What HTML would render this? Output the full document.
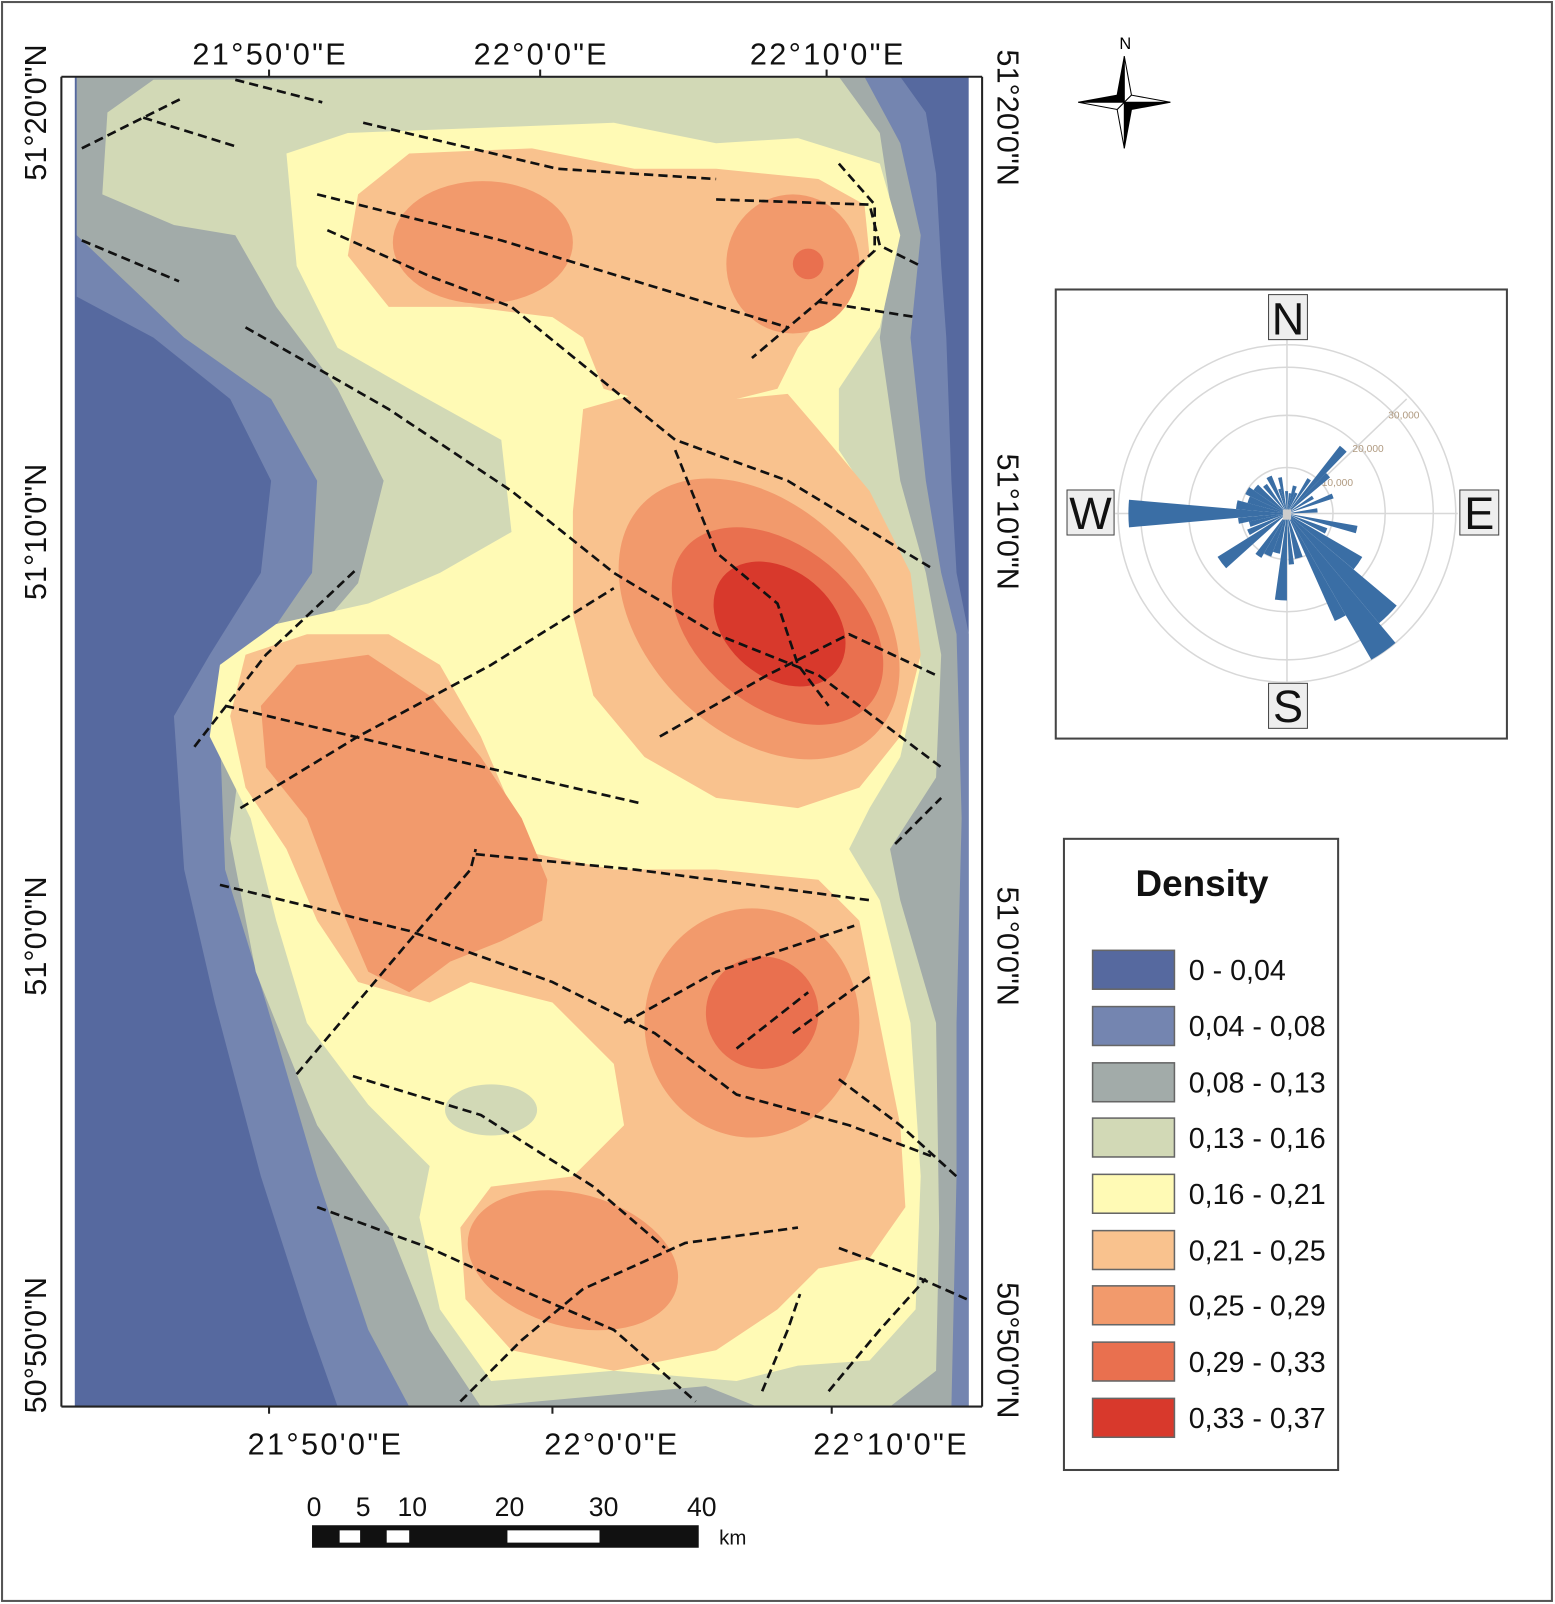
<!DOCTYPE html>
<html><head><meta charset="utf-8"><style>
html,body{margin:0;padding:0;background:#fff}
svg{display:block}
text{font-family:"Liberation Sans",sans-serif}
</style></head><body>
<svg width="1555" height="1604" viewBox="0 0 1520 1568" preserveAspectRatio="none" xmlns="http://www.w3.org/2000/svg">
<rect x="2" y="2" width="1515" height="1563" fill="#fff" stroke="#555" stroke-width="2"/>
<defs><clipPath id="mc"><rect x="73" y="75" width="874" height="1300"/></clipPath></defs>
<g clip-path="url(#mc)" stroke-linejoin="round">
<rect x="73" y="75" width="874" height="1300" fill="#56699f"/>
<polygon fill="#7485b0" points="75,75 880,75 905,110 915,170 920,260 925,330 930,470 935,560 947,620 947,1375 330,1375 300,1290 255,1150 210,980 180,850 170,700 205,640 255,560 265,470 225,390 150,330 75,290"/>
<polygon fill="#a2aba9" points="75,75 845,75 880,140 900,230 890,330 905,470 920,560 935,620 940,800 935,1000 935,1150 930,1375 400,1375 360,1300 310,1150 260,980 220,850 215,720 250,640 305,560 310,470 265,390 180,330 75,230"/>
<polygon fill="#d2d9b6" points="100,190 105,110 150,78 820,75 860,130 875,230 860,330 880,470 905,560 920,640 915,760 870,830 880,880 915,1000 918,1200 915,1340 870,1375 740,1375 690,1355 470,1375 420,1300 380,1200 310,1100 250,950 225,820 240,700 290,640 350,570 375,470 330,380 270,300 230,230 170,220"/>
<polygon fill="#fffab5" points="280,150 340,130 600,120 700,140 780,135 860,160 880,230 860,320 820,380 820,440 860,500 890,580 900,650 880,740 850,790 830,830 860,880 890,1000 900,1150 895,1280 850,1330 780,1335 720,1350 600,1340 480,1350 430,1280 410,1190 420,1140 360,1080 300,1000 270,900 245,800 205,720 215,650 270,610 360,590 430,560 500,520 490,430 400,380 330,340 290,260"/>
<ellipse cx="480" cy="1085" rx="45" ry="25" fill="#d2d9b6"/>
<g fill="#f9c28e">
<polygon points="340,250 350,190 400,150 520,145 620,165 700,165 800,175 845,200 850,250 810,300 780,340 760,380 700,395 640,395 590,380 570,330 540,310 460,300 380,300"/>
<polygon points="570,400 640,380 720,390 770,385 800,420 850,480 890,560 900,640 880,720 840,770 780,790 700,780 630,740 580,680 560,600 560,500"/>
<polygon points="225,700 240,640 300,620 380,620 430,650 470,720 500,790 530,850 540,900 500,940 420,980 350,960 310,900 280,830 240,770"/>
<polygon points="380,830 500,830 600,850 700,850 800,860 840,900 860,1000 880,1100 885,1180 850,1230 800,1240 760,1280 700,1320 600,1340 500,1320 455,1270 450,1200 480,1160 560,1150 610,1100 600,1040 540,980 460,960 420,930"/>
</g>
<g fill="#f29a6c">
<ellipse cx="472" cy="237" rx="88" ry="60"/>
<ellipse cx="775" cy="258" rx="65" ry="68"/>
<ellipse cx="742" cy="605" rx="160" ry="110" transform="rotate(45 742 605)"/>
<polygon points="255,690 290,650 360,640 420,680 470,740 510,800 535,860 530,900 490,920 440,940 400,970 360,950 330,880 300,800 260,750"/>
<ellipse cx="735" cy="1000" rx="105" ry="112"/>
<ellipse cx="560" cy="1232" rx="105" ry="65" transform="rotate(15 560 1232)"/>
</g>
<g fill="#e9704f">
<circle cx="790" cy="258" r="15"/>
<ellipse cx="760" cy="612" rx="118" ry="78" transform="rotate(40 760 612)"/>
<ellipse cx="745" cy="990" rx="55" ry="55"/>
</g>
<ellipse cx="762" cy="610" rx="72" ry="52" transform="rotate(40 762 610)" fill="#d8392c"/>
<g fill="none" stroke="#111" stroke-width="2.6" stroke-dasharray="9,5">
<polyline points="80,145 180,95"/><polyline points="140,115 230,143"/><polyline points="230,78 315,100"/>
<polyline points="355,120 545,165 700,175"/><polyline points="700,195 850,200 860,240 900,260"/>
<polyline points="820,160 855,200 855,245 800,295 735,350"/><polyline points="310,190 490,235 770,320"/>
<polyline points="320,225 420,270 500,300 660,430 770,470 910,555"/><polyline points="800,295 895,310"/>
<polyline points="80,235 175,275"/><polyline points="240,320 380,400 500,480 600,560 700,620 800,660 920,750"/>
<polyline points="660,440 700,540 760,590 780,650 810,690"/><polyline points="190,730 260,640 350,555"/>
<polyline points="235,790 350,720 480,650 600,575"/><polyline points="220,690 430,740 625,785"/>
<polyline points="645,720 750,660 830,620 915,660"/><polyline points="875,825 920,780"/>
<polyline points="215,865 400,910 540,960 640,1010 720,1070 830,1100 910,1130"/>
<polyline points="465,835 620,850 850,880"/><polyline points="290,1050 400,920 460,850 465,830"/>
<polyline points="610,1000 700,950 835,905"/><polyline points="720,1025 790,970"/><polyline points="775,1010 850,955"/>
<polyline points="820,1055 880,1100 935,1150"/><polyline points="345,1052 470,1090 580,1160 650,1220"/>
<polyline points="310,1180 420,1220 530,1270 600,1300 680,1370"/>
<polyline points="450,1370 510,1310 570,1260 670,1215 780,1200"/>
<polyline points="745,1360 770,1300 782,1265"/><polyline points="810,1360 860,1300 905,1250"/>
<polyline points="820,1220 900,1250 945,1270"/>
</g>
</g>
<g stroke="#222" stroke-width="2" fill="none">
<line x1="60" y1="75" x2="960" y2="75"/><line x1="60" y1="1375" x2="960" y2="1375"/>
<line x1="60" y1="75" x2="60" y2="1375"/><line x1="960" y1="75" x2="960" y2="1375"/>
<line x1="263" y1="68" x2="263" y2="75"/><line x1="528" y1="68" x2="528" y2="75"/><line x1="808" y1="68" x2="808" y2="75"/>
<line x1="263" y1="1375" x2="263" y2="1382"/><line x1="540" y1="1375" x2="540" y2="1382"/><line x1="813" y1="1375" x2="813" y2="1382"/>
</g>
<g font-size="30" fill="#111" text-anchor="middle">
<text x="263" y="63" textLength="150">21°50'0"E</text>
<text x="528" y="63" textLength="130">22°0'0"E</text>
<text x="808" y="63" textLength="150">22°10'0"E</text>
<text x="317" y="1422" textLength="150">21°50'0"E</text>
<text x="597" y="1422" textLength="130">22°0'0"E</text>
<text x="870" y="1422" textLength="150">22°10'0"E</text>
<text transform="translate(45,110) rotate(-90)">51°20'0"N</text>
<text transform="translate(45,520) rotate(-90)">51°10'0"N</text>
<text transform="translate(45,915) rotate(-90)">51°0'0"N</text>
<text transform="translate(45,1315) rotate(-90)">50°50'0"N</text>
<text transform="translate(975,115) rotate(90)">51°20'0"N</text>
<text transform="translate(975,510) rotate(90)">51°10'0"N</text>
<text transform="translate(975,925) rotate(90)">51°0'0"N</text>
<text transform="translate(975,1320) rotate(90)">50°50'0"N</text>
</g>
<g transform="translate(1099,100)" stroke="#000" stroke-width="1">
<polygon points="0,-45 -7,-7 0,0" fill="#000"/><polygon points="0,-45 7,-7 0,0" fill="#fff"/>
<polygon points="0,45 7,7 0,0" fill="#000"/><polygon points="0,45 -7,7 0,0" fill="#fff"/>
<polygon points="-45,0 -7,-7 0,0" fill="#000"/><polygon points="-45,0 -7,7 0,0" fill="#fff"/>
<polygon points="45,0 7,7 0,0" fill="#000"/><polygon points="45,0 7,-7 0,0" fill="#fff"/>
<text x="1" y="-52" font-family="Liberation Serif" font-size="16" text-anchor="middle" stroke="none">N</text>
</g>
<rect x="1032" y="283" width="441" height="439" fill="#fff" stroke="#444" stroke-width="2"/>
<g fill="none" stroke="#d8d8d8" stroke-width="1.5">
<circle cx="1258" cy="502" r="45"/><circle cx="1258" cy="502" r="96"/><circle cx="1258" cy="502" r="143"/><circle cx="1258" cy="502" r="165"/>
<line x1="1258" y1="330" x2="1258" y2="680"/><line x1="1090" y1="502" x2="1425" y2="502"/>
<line x1="1258" y1="502" x2="1375" y2="390"/>
</g>
<g font-size="10" fill="#b09a80"><text x="1292" y="475">10,000</text><text x="1322" y="442">20,000</text><text x="1357" y="409">30,000</text></g>
<g fill="#3a6ea5">
<path transform="translate(1258,502) rotate(270)" d="M0,0 L-13.5,-154.4 A155,155 0 0 1 13.5,-154.4 Z"/>
<path transform="translate(1258,502) rotate(41)" d="M0,0 L-4.4,-83.9 A84,84 0 0 1 4.4,-83.9 Z"/>
<path transform="translate(1258,502) rotate(47)" d="M0,0 L-2.9,-54.9 A55,55 0 0 1 2.9,-54.9 Z"/>
<path transform="translate(1258,502) rotate(33)" d="M0,0 L-2.1,-39.9 A40,40 0 0 1 2.1,-39.9 Z"/>
<path transform="translate(1258,502) rotate(58)" d="M0,0 L-1.8,-29.9 A30,30 0 0 1 1.8,-29.9 Z"/>
<path transform="translate(1258,502) rotate(69)" d="M0,0 L-2.5,-47.9 A48,48 0 0 1 2.5,-47.9 Z"/>
<path transform="translate(1258,502) rotate(84)" d="M0,0 L-2.1,-29.9 A30,30 0 0 1 2.1,-29.9 Z"/>
<path transform="translate(1258,502) rotate(103)" d="M0,0 L-3.7,-69.9 A70,70 0 0 1 3.7,-69.9 Z"/>
<path transform="translate(1258,502) rotate(114)" d="M0,0 L-2.9,-41.9 A42,42 0 0 1 2.9,-41.9 Z"/>
<path transform="translate(1258,502) rotate(125)" d="M0,0 L-7.4,-84.7 A85,85 0 0 1 7.4,-84.7 Z"/>
<path transform="translate(1258,502) rotate(135)" d="M0,0 L-12.2,-139.5 A140,140 0 0 1 12.2,-139.5 Z"/>
<path transform="translate(1258,502) rotate(145)" d="M0,0 L-14.4,-164.4 A165,165 0 0 1 14.4,-164.4 Z"/>
<path transform="translate(1258,502) rotate(153)" d="M0,0 L-6,-114.8 A115,115 0 0 1 6,-114.8 Z"/>
<path transform="translate(1258,502) rotate(165)" d="M0,0 L-3.9,-44.8 A45,45 0 0 1 3.9,-44.8 Z"/>
<path transform="translate(1258,502) rotate(175)" d="M0,0 L-2.6,-49.9 A50,50 0 0 1 2.6,-49.9 Z"/>
<path transform="translate(1258,502) rotate(184)" d="M0,0 L-5.9,-84.8 A85,85 0 0 1 5.9,-84.8 Z"/>
<path transform="translate(1258,502) rotate(195)" d="M0,0 L-3.5,-39.8 A40,40 0 0 1 3.5,-39.8 Z"/>
<path transform="translate(1258,502) rotate(205)" d="M0,0 L-3.9,-44.8 A45,45 0 0 1 3.9,-44.8 Z"/>
<path transform="translate(1258,502) rotate(214)" d="M0,0 L-3.5,-49.9 A50,50 0 0 1 3.5,-49.9 Z"/>
<path transform="translate(1258,502) rotate(233)" d="M0,0 L-7,-79.7 A80,80 0 0 1 7,-79.7 Z"/>
<path transform="translate(1258,502) rotate(244)" d="M0,0 L-2.9,-41.9 A42,42 0 0 1 2.9,-41.9 Z"/>
<path transform="translate(1258,502) rotate(254)" d="M0,0 L-2.7,-37.9 A38,38 0 0 1 2.7,-37.9 Z"/>
<path transform="translate(1258,502) rotate(261.5)" d="M0,0 L-2.9,-47.9 A48,48 0 0 1 2.9,-47.9 Z"/>
<path transform="translate(1258,502) rotate(280)" d="M0,0 L-4.4,-49.8 A50,50 0 0 1 4.4,-49.8 Z"/>
<path transform="translate(1258,502) rotate(290)" d="M0,0 L-3.5,-39.8 A40,40 0 0 1 3.5,-39.8 Z"/>
<path transform="translate(1258,502) rotate(300)" d="M0,0 L-3.9,-44.8 A45,45 0 0 1 3.9,-44.8 Z"/>
<path transform="translate(1258,502) rotate(310)" d="M0,0 L-3.5,-39.8 A40,40 0 0 1 3.5,-39.8 Z"/>
<path transform="translate(1258,502) rotate(322)" d="M0,0 L-2.4,-34.9 A35,35 0 0 1 2.4,-34.9 Z"/>
<path transform="translate(1258,502) rotate(334)" d="M0,0 L-2.8,-39.9 A40,40 0 0 1 2.8,-39.9 Z"/>
<path transform="translate(1258,502) rotate(343)" d="M0,0 L-1.3,-25 A25,25 0 0 1 1.3,-25 Z"/>
<path transform="translate(1258,502) rotate(349)" d="M0,0 L-1.9,-35.9 A36,36 0 0 1 1.9,-35.9 Z"/>
<path transform="translate(1258,502) rotate(359)" d="M0,0 L-1.5,-21.9 A22,22 0 0 1 1.5,-21.9 Z"/>
<path transform="translate(1258,502) rotate(8.5)" d="M0,0 L-1.2,-20 A20,20 0 0 1 1.2,-20 Z"/>
<path transform="translate(1258,502) rotate(16)" d="M0,0 L-2,-27.9 A28,28 0 0 1 2,-27.9 Z"/>
<path transform="translate(1258,502) rotate(24)" d="M0,0 L-1.5,-21.9 A22,22 0 0 1 1.5,-21.9 Z"/>
</g>
<rect x="1254" y="498" width="8" height="10" fill="#ccc"/>
<g font-size="44" fill="#111" text-anchor="middle">
<rect x="1240" y="288" width="38" height="44" fill="#eee" stroke="#444"/><text x="1259" y="327">N</text>
<rect x="1240" y="668" width="38" height="44" fill="#eee" stroke="#444"/><text x="1259" y="706">S</text>
<rect x="1043" y="479" width="46" height="44" fill="#eee" stroke="#444"/><text x="1066" y="517">W</text>
<rect x="1427" y="479" width="38" height="44" fill="#eee" stroke="#444"/><text x="1446" y="517">E</text>
</g>
<rect x="1040" y="820" width="268" height="617" fill="#fff" stroke="#444" stroke-width="2"/>
<text x="1175" y="876" font-size="36" font-weight="bold" text-anchor="middle" fill="#111">Density</text>
<g stroke="#666" stroke-width="1.5">
<rect x="1068" y="929" width="80" height="38" fill="#56699f"/>
<rect x="1068" y="984" width="80" height="38" fill="#7485b0"/>
<rect x="1068" y="1039" width="80" height="38" fill="#a2aba9"/>
<rect x="1068" y="1093" width="80" height="38" fill="#d2d9b6"/>
<rect x="1068" y="1148" width="80" height="38" fill="#fffab5"/>
<rect x="1068" y="1203" width="80" height="38" fill="#f9c28e"/>
<rect x="1068" y="1257" width="80" height="38" fill="#f29a6c"/>
<rect x="1068" y="1312" width="80" height="38" fill="#e9704f"/>
<rect x="1068" y="1367" width="80" height="38" fill="#d8392c"/>
</g>
<g font-size="28" fill="#111">
<text x="1162" y="958">0 - 0,04</text><text x="1162" y="1013">0,04 - 0,08</text><text x="1162" y="1068">0,08 - 0,13</text>
<text x="1162" y="1122">0,13 - 0,16</text><text x="1162" y="1177">0,16 - 0,21</text><text x="1162" y="1232">0,21 - 0,25</text>
<text x="1162" y="1286">0,25 - 0,29</text><text x="1162" y="1341">0,29 - 0,33</text><text x="1162" y="1396">0,33 - 0,37</text>
</g>
<rect x="305" y="1491" width="378" height="22" fill="#111"/>
<rect x="332" y="1496" width="20" height="12" fill="#fff"/><rect x="378" y="1496" width="22" height="12" fill="#fff"/>
<rect x="496" y="1496" width="90" height="12" fill="#fff"/>
<g font-size="26" fill="#111" text-anchor="middle">
<text x="307" y="1482">0</text><text x="355" y="1482">5</text><text x="403" y="1482">10</text><text x="498" y="1482">20</text><text x="590" y="1482">30</text><text x="686" y="1482">40</text>
</g>
<text x="703" y="1510" font-size="20" fill="#111">km</text>
</svg>
</body></html>
